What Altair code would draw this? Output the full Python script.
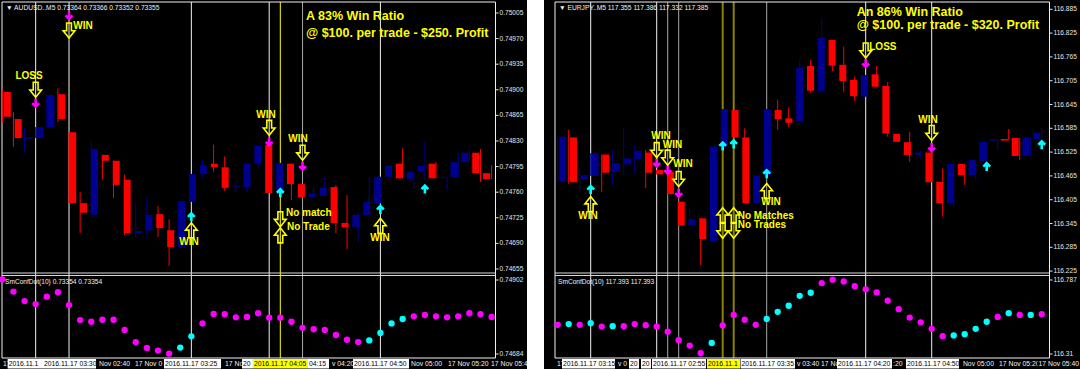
import altair as alt
import pandas as pd

# ---------------- LEFT chart : AUDUSD..M5 ----------------
L_open  = [0.74897, 0.74860, 0.74833, 0.74834, 0.74849, 0.74894, 0.74842, 0.74745, 0.74729, 0.74811,
           0.74803, 0.74777, 0.74704, 0.74708, 0.74730, 0.74708, 0.74685, 0.74747, 0.74785, 0.74799,
           0.74794, 0.74767, 0.74767, 0.74799, 0.74825, 0.74763, 0.74799, 0.74771, 0.74753, 0.74755,
           0.74767, 0.74718, 0.74712, 0.74729, 0.74745, 0.74781, 0.74799, 0.74778, 0.74789, 0.74799,
           0.74780, 0.74781, 0.74801, 0.74814, 0.74786]
L_high  = [0.74900, 0.74870, 0.74848, 0.74849, 0.74893, 0.74902, 0.74842, 0.74760, 0.74829, 0.74811,
           0.74803, 0.74784, 0.74745, 0.74753, 0.74741, 0.74723, 0.74748, 0.74785, 0.74804, 0.74825,
           0.74809, 0.74775, 0.74799, 0.74825, 0.74825, 0.74800, 0.74799, 0.74771, 0.74767, 0.74781,
           0.74770, 0.74756, 0.74732, 0.74781, 0.74781, 0.74796, 0.74820, 0.74788, 0.74829, 0.74801,
           0.74781, 0.74814, 0.74820, 0.74819, 0.74797]
L_low   = [0.74855, 0.74822, 0.74814, 0.74834, 0.74849, 0.74856, 0.74745, 0.74704, 0.74729, 0.74777,
           0.74752, 0.74701, 0.74699, 0.74699, 0.74699, 0.74659, 0.74684, 0.74747, 0.74779, 0.74788,
           0.74762, 0.74759, 0.74760, 0.74793, 0.74759, 0.74763, 0.74749, 0.74753, 0.74753, 0.74755,
           0.74704, 0.74682, 0.74691, 0.74729, 0.74745, 0.74781, 0.74779, 0.74766, 0.74777, 0.74779,
           0.74762, 0.74781, 0.74801, 0.74774, 0.74778]
L_close = [0.74863, 0.74834, 0.74835, 0.74849, 0.74893, 0.74860, 0.74745, 0.74732, 0.74819, 0.74803,
           0.74770, 0.74704, 0.74707, 0.74729, 0.74711, 0.74685, 0.74748, 0.74785, 0.74797, 0.74794,
           0.74766, 0.74768, 0.74799, 0.74823, 0.74759, 0.74800, 0.74771, 0.74753, 0.74758, 0.74766,
           0.74718, 0.74712, 0.74729, 0.74747, 0.74781, 0.74796, 0.74779, 0.74788, 0.74796, 0.74779,
           0.74781, 0.74801, 0.74814, 0.74786, 0.74778]
L_dot = [0.74904, 0.74868, 0.74840, 0.74831, 0.74853, 0.74866, 0.74828, 0.74784, 0.74779, 0.74785,
         0.74785, 0.74755, 0.74719, 0.74702, 0.74694, 0.74685, 0.74703, 0.74736, 0.74774, 0.74802,
         0.74801, 0.74792, 0.74793, 0.74804, 0.74791, 0.74791, 0.74779, 0.74761, 0.74757, 0.74755,
         0.74740, 0.74726, 0.74719, 0.74724, 0.74746, 0.74774, 0.74787, 0.74795, 0.74799, 0.74795,
         0.74792, 0.74795, 0.74804, 0.74801, 0.74793]
L_dot_cyan = [16, 17, 33, 34, 35, 36]

L_vline_white = [3, 6, 17, 24, 34]
L_vline_gray = [27]
L_vline_gold = [25]

L_label_text = ["LOSS", "WIN", "WIN", "WIN", "WIN", "WIN"]
L_label_x = [2.40, 7.26, 16.79, 23.71, 26.59, 33.97]
L_label_y = [0.74919, 0.74987, 0.74692, 0.74866, 0.74833, 0.74697]
L_note_text = ["No match", "No Trade"]
L_note_x = [25.51, 25.60]
L_note_y = [0.74732, 0.74712]
L_hdown_x = [3, 6, 24, 25, 27]
L_hdown_y = [0.74900, 0.74981, 0.74848, 0.74723, 0.74814]
L_hup_x = [17, 25, 34]
L_hup_y = [0.74708, 0.74701, 0.74714]
L_sdown_x = [3, 6, 24, 27]
L_sdown_y = [0.74882, 0.75002, 0.74829, 0.74796]
L_sup_x = [17, 25, 34, 38]
L_sup_y = [0.74726, 0.74759, 0.74736, 0.74764]
L_head = ["A 83% Win Ratio", "@ $100. per trade - $250. Profit"]
L_head_x = 27.31
L_head_y = [0.75001, 0.74978]
L_price_ticks = [0.75005, 0.74970, 0.74935, 0.74900, 0.74865, 0.74830, 0.74795, 0.74760, 0.74725, 0.74690, 0.74655]
L_price_labels = ["%.5f" % v for v in L_price_ticks]
L_ind_ticks = [0.74902, 0.74684]
L_ind_labels = ["0.74902", "0.74684"]
L_title = "\u25bc AUDUSD..M5  0.73364 0.73366 0.73352 0.73355"
L_ind_title = "SmConfDot(10) 0.73354 0.73354"
L_time_text = ["17", "2016.11.1", "2016.11.17 03:30", "Nov 02:40", "17 Nov 0", "2016.11.17 03:25", "17 No", "20",
               "2016.11.17 04:05", "04:15", "v 04:20", "2016.11.17 04:50", "Nov 05:00", "17 Nov 05:20", "17 Nov 05:40"]
L_time_start = [-0.03, 0.48, 3.66, 8.61, 11.84, 14.54, 19.94, 21.56, 22.54, 27.49, 29.56, 31.54, 36.66, 39.99, 43.86]
L_time_end = [0.48, 3.66, 8.43, 11.6, 14.5, 19.67, 21.5, 22.54, 27.49, 29.38, 31.5, 36.57, 39.9, 43.8, 47.0]
L_time_box = ["none", "white", "white", "none", "none", "white", "none", "white",
              "yellow", "white", "none", "white", "none", "none", "none"]

# ---------------- RIGHT chart : EURJPY..M5 ----------------
R_open  = [116.450, 116.562, 116.457, 116.465, 116.519, 116.475, 116.494, 116.508, 116.524, 116.480,
           116.476, 116.400, 116.341, 116.358, 116.301, 116.539, 116.631, 116.562, 116.396, 116.467,
           116.631, 116.610, 116.603, 116.742, 116.679, 116.808, 116.745, 116.707, 116.665, 116.721,
           116.692, 116.571, 116.550, 116.518, 116.524, 116.450, 116.396, 116.495, 116.467, 116.503,
           116.554, 116.558, 116.561, 116.516, 116.558]
R_high  = [116.564, 116.581, 116.486, 116.522, 116.519, 116.530, 116.587, 116.540, 116.530, 116.480,
           116.476, 116.400, 116.383, 116.358, 116.539, 116.633, 116.631, 116.585, 116.466, 116.633,
           116.656, 116.638, 116.757, 116.757, 116.864, 116.808, 116.791, 116.715, 116.719, 116.742,
           116.702, 116.571, 116.576, 116.528, 116.524, 116.484, 116.501, 116.495, 116.505, 116.551,
           116.558, 116.583, 116.561, 116.562, 116.585]
R_low   = [116.450, 116.445, 116.425, 116.465, 116.425, 116.442, 116.469, 116.472, 116.434, 116.469,
           116.419, 116.340, 116.341, 116.240, 116.296, 116.539, 116.562, 116.396, 116.396, 116.467,
           116.581, 116.588, 116.599, 116.675, 116.674, 116.729, 116.677, 116.654, 116.665, 116.690,
           116.564, 116.551, 116.501, 116.513, 116.449, 116.362, 116.386, 116.442, 116.453, 116.503,
           116.530, 116.554, 116.505, 116.516, 116.558]
R_close = [116.564, 116.449, 116.467, 116.522, 116.473, 116.497, 116.509, 116.528, 116.473, 116.469,
           116.419, 116.340, 116.356, 116.306, 116.539, 116.633, 116.562, 116.396, 116.466, 116.633,
           116.608, 116.599, 116.738, 116.680, 116.813, 116.743, 116.704, 116.666, 116.719, 116.690,
           116.572, 116.551, 116.518, 116.524, 116.449, 116.396, 116.495, 116.467, 116.505, 116.551,
           116.558, 116.554, 116.515, 116.562, 116.574]
R_dot = [116.498, 116.503, 116.498, 116.509, 116.487, 116.489, 116.489, 116.503, 116.496, 116.487,
         116.454, 116.399, 116.364, 116.315, 116.381, 116.494, 116.562, 116.531, 116.498, 116.536,
         116.582, 116.621, 116.685, 116.705, 116.767, 116.789, 116.778, 116.747, 116.727, 116.707,
         116.654, 116.599, 116.545, 116.514, 116.472, 116.425, 116.430, 116.438, 116.472, 116.518,
         116.549, 116.573, 116.562, 116.562, 116.567]
R_dot_cyan = [1, 3, 5, 14, 19, 20, 21, 22, 23, 36, 37, 38, 39, 41, 43]

R_vline_white = [3, 9, 28, 34]
R_vline_gray = [10, 11, 19]
R_vline_gold = [15, 16]

R_label_text = ["WIN", "WIN", "WIN", "WIN", "WIN", "LOSS", "WIN"]
R_label_x = [2.75, 9.39, 10.44, 11.39, 19.39, 29.56, 33.66]
R_label_y = [116.364, 116.566, 116.543, 116.494, 116.399, 116.791, 116.606]
R_note_text = ["No Matches", "No Trades"]
R_note_x = [16.36, 16.36]
R_note_y = [116.364, 116.341]
R_hdown_x = [9, 10, 11, 15, 16, 28, 34]
R_hdown_y = [116.530, 116.511, 116.457, 116.327, 116.327, 116.781, 116.573]
R_hup_x = [3, 15, 16, 19]
R_hup_y = [116.394, 116.366, 116.366, 116.427]
R_sdown_x = [9, 10, 11, 28, 34]
R_sdown_y = [116.498, 116.480, 116.422, 116.749, 116.537]
R_sup_x = [3, 15, 16, 19, 39, 44]
R_sup_y = [116.430, 116.540, 116.545, 116.470, 116.488, 116.543]
R_head = ["An 86% Win Ratio", "@ $100. per trade - $320. Profit"]
R_head_x = 27.18
R_head_y = [116.877, 116.845]
R_price_ticks = [116.885, 116.825, 116.765, 116.705, 116.645, 116.585, 116.525, 116.465, 116.405, 116.345, 116.285, 116.225]
R_price_labels = ["%.3f" % v for v in R_price_ticks]
R_ind_ticks = [116.787, 116.31]
R_ind_labels = ["116.787", "116.31"]
R_title = "\u25bc EURJPY..M5  117.355 117.386 117.332 117.385"
R_ind_title = "SmConfDot(10) 117.393 117.393"
R_time_text = ["17", "2016.11.17 03:15", "v 0", "20", "20", "2016.11.17 02:55", "2016.11.1", "2016.11.17 03:35",
               "v 03:40", "17 No", "2016.11.17 04:20", ":20", "2016.11.17 04:50", "Nov 05:00", "17 Nov 05:20", "17 Nov 05:40"]
R_time_start = [-0.15, 0.39, 5.39, 6.48, 7.57, 8.57, 13.57, 16.62, 21.66, 23.85, 25.39, 30.39, 31.66, 36.75, 40.03, 43.62]
R_time_end = [0.39, 5.21, 6.4, 7.39, 8.48, 13.48, 16.57, 21.57, 23.6, 25.3, 30.39, 31.5, 36.48, 39.9, 43.6, 47.4]
R_time_box = ["none", "white", "none", "white", "white", "white", "yellow", "white",
              "none", "none", "white", "none", "white", "none", "none", "none"]

# ---------------- styling / layout ----------------
FONT = "Liberation Sans"
YELLOW = "#ffff00"
AX = "#e6e6e6"
DOWN_SMALL = "M0,-1 L0,0.85 M-0.8,0.05 L0,0.85 L0.8,0.05"
UP_SMALL = "M0,1 L0,-0.85 M-0.8,-0.05 L0,-0.85 L0.8,-0.05"
HOLLOW_DOWN = "M-0.32,-1 L0.32,-1 L0.32,0.02 L0.78,0.02 L0,1 L-0.78,0.02 L-0.32,0.02 Z"
HOLLOW_UP = "M-0.32,1 L0.32,1 L0.32,-0.02 L0.78,-0.02 L0,-1 L-0.78,-0.02 L-0.32,-0.02 Z"
BOX_FILL = {"white": "#ffffff", "yellow": "#ffff00", "none": "#000000"}

ONE = alt.Data(values=[{"k": 0}])


def build_panel(P):
    xs = alt.Scale(domain=[0, 44], range=P["xr"])
    ym = alt.Scale(domain=P["ydom"], range=P["yr"])
    yi = alt.Scale(domain=P["idom"], range=P["ir"])
    fx0, fx1 = P["frame_x"]
    L = []

    # vertical signal lines (behind the candles)
    for idxs, col, w in [(P["vw"], "#f0f0f0", 1), (P["vg"], "#a8a8a8", 1), (P["vy"], P["gold"], P["gold_w"])]:
        d = pd.DataFrame({"idx": idxs})
        L.append(alt.Chart(d).mark_rule(color=col, strokeWidth=w).encode(
            x=alt.X("idx:Q", scale=xs, axis=None), y=alt.value(2), y2=alt.value(358)))

    # frame
    L.append(alt.Chart(ONE).mark_rect(fillOpacity=0, stroke="#f0f0f0", strokeWidth=1).encode(
        x=alt.value(fx0), x2=alt.value(fx1), y=alt.value(2), y2=alt.value(358)))
    for yy in (273, 275.5):
        L.append(alt.Chart(ONE).mark_rule(color="#d8d8d8", strokeWidth=1).encode(
            x=alt.value(fx0), x2=alt.value(fx1), y=alt.value(yy)))

    # candles
    cd = pd.DataFrame({"idx": range(len(P["o"])), "open": P["o"], "high": P["h"],
                       "low": P["l"], "close": P["c"]})
    cd["dir"] = ["up" if c >= o else "down" for o, c in zip(P["o"], P["c"])]
    cscale = alt.Scale(domain=["up", "down"], range=["#000090", "#ff0000"])
    L.append(alt.Chart(cd).mark_rule(strokeWidth=1).encode(
        x=alt.X("idx:Q", scale=xs, axis=None),
        y=alt.Y("low:Q", scale=ym, axis=None), y2="high:Q",
        color=alt.Color("dir:N", scale=cscale, legend=None)))
    L.append(alt.Chart(cd).mark_bar(size=7).encode(
        x=alt.X("idx:Q", scale=xs, axis=None),
        y=alt.Y("open:Q", scale=ym, axis=None), y2="close:Q",
        color=alt.Color("dir:N", scale=cscale, legend=None)))

    # indicator dots
    dd = pd.DataFrame({"idx": range(len(P["dot"])), "dot": P["dot"]})
    dd["trend"] = ["up" if i in P["cyan"] else "down" for i in range(len(P["dot"]))]
    L.append(alt.Chart(dd).mark_circle(size=40, opacity=1).encode(
        x=alt.X("idx:Q", scale=xs, axis=None),
        y=alt.Y("dot:Q", scale=yi, axis=None),
        color=alt.Color("trend:N", scale=alt.Scale(domain=["up", "down"], range=["#00ffff", "#ff00ff"]), legend=None)))

    # signal arrows
    for xsrc, ysrc, shape, col, size, sw in [
        (P["sdx"], P["sdy"], DOWN_SMALL, "#ff00ff", 72, 2.6),
        (P["sux"], P["suy"], UP_SMALL, "#00ffff", 72, 2.6),
        (P["hdx"], P["hdy"], HOLLOW_DOWN, YELLOW, 225, 1.6),
        (P["hux"], P["huy"], HOLLOW_UP, YELLOW, 225, 1.6)]:
        d = pd.DataFrame({"idx": xsrc, "y": ysrc})
        L.append(alt.Chart(d).mark_point(shape=shape, filled=False, color=col, strokeWidth=sw,
                                         size=size, opacity=1).encode(
            x=alt.X("idx:Q", scale=xs, axis=None), y=alt.Y("y:Q", scale=ym, axis=None)))

    # WIN / LOSS labels
    d = pd.DataFrame({"x": P["lx"], "y": P["ly"], "t": P["lt"]})
    L.append(alt.Chart(d).mark_text(font=FONT, fontWeight="bold", fontSize=10, color=YELLOW,
                                    align="center", baseline="middle").encode(
        x=alt.X("x:Q", scale=xs, axis=None), y=alt.Y("y:Q", scale=ym, axis=None), text="t:N"))
    d = pd.DataFrame({"x": P["nx"], "y": P["ny"], "t": P["nt"]})
    L.append(alt.Chart(d).mark_text(font=FONT, fontWeight="bold", fontSize=10, color=YELLOW,
                                    align="left", baseline="middle").encode(
        x=alt.X("x:Q", scale=xs, axis=None), y=alt.Y("y:Q", scale=ym, axis=None), text="t:N"))
    # headline
    d = pd.DataFrame({"x": [P["hx"]] * 2, "y": P["hy"], "t": P["ht"]})
    L.append(alt.Chart(d).mark_text(font=FONT, fontWeight="bold", fontSize=12.5, color=YELLOW,
                                    align="left", baseline="middle").encode(
        x=alt.X("x:Q", scale=xs, axis=None), y=alt.Y("y:Q", scale=ym, axis=None), text="t:N"))

    # price axis (main + indicator)
    for vals, labs, sc in [(P["pt"], P["pl"], ym), (P["it"], P["il"], yi)]:
        d = pd.DataFrame({"v": vals, "t": labs})
        L.append(alt.Chart(d).mark_rule(color=AX, strokeWidth=1).encode(
            x=alt.value(fx1), x2=alt.value(fx1 + 3), y=alt.Y("v:Q", scale=sc, axis=None)))
        L.append(alt.Chart(d).mark_text(font=FONT, fontSize=6.6, color=AX, align="left", baseline="middle").encode(
            x=alt.value(fx1 + 4), y=alt.Y("v:Q", scale=sc, axis=None), text="t:N"))

    # titles
    L.append(alt.Chart(ONE).mark_text(font=FONT, fontSize=6.7, color="#f0f0f0", align="left", baseline="middle").encode(
        x=alt.value(fx0 + 4), y=alt.value(7.5), text=alt.value(P["title"])))
    L.append(alt.Chart(ONE).mark_text(font=FONT, fontSize=6.6, color="#f0f0f0", align="left", baseline="middle").encode(
        x=alt.value(fx0 + 3), y=alt.value(281.5), text=alt.value(P["ititle"])))

    # time axis: each label drawn in order so later ones cover earlier ones (as MT4 does)
    for s, e, t, b in zip(P["ts"], P["te"], P["tt"], P["tb"]):
        d = pd.DataFrame({"s": [s], "e": [e], "t": [t]})
        L.append(alt.Chart(d).mark_rect(color=BOX_FILL[b]).encode(
            x=alt.X("s:Q", scale=xs, axis=None), x2="e:Q", y=alt.value(359), y2=alt.value(368.5)))
        L.append(alt.Chart(d).mark_text(font=FONT, fontSize=6.8, color="#000000" if b != "none" else "#f0f0f0",
                                        align="left", baseline="middle", dx=1).encode(
            x=alt.X("s:Q", scale=xs, axis=None), y=alt.value(364), text="t:N"))
    return L


LEFT = dict(xr=[2.3, 491.6], ydom=[0.74655, 0.75005], yr=[269, 13], idom=[0.74684, 0.74902], ir=[354, 280],
            frame_x=(2, 495.5), o=L_open, h=L_high, l=L_low, c=L_close, dot=L_dot, cyan=L_dot_cyan,
            vw=L_vline_white, vg=L_vline_gray, vy=L_vline_gold, gold="#ffff00", gold_w=1,
            sdx=L_sdown_x, sdy=L_sdown_y, sux=L_sup_x, suy=L_sup_y, hdx=L_hdown_x, hdy=L_hdown_y,
            hux=L_hup_x, huy=L_hup_y, lx=L_label_x, ly=L_label_y, lt=L_label_text,
            nx=L_note_x, ny=L_note_y, nt=L_note_text, hx=L_head_x, hy=L_head_y, ht=L_head,
            pt=L_price_ticks, pl=L_price_labels, it=L_ind_ticks, il=L_ind_labels,
            title=L_title, ititle=L_ind_title, ts=L_time_start, te=L_time_end, tt=L_time_text, tb=L_time_box)
RIGHT = dict(xr=[557.7, 1041.7], ydom=[116.285, 116.885], yr=[247.3, 9.3], idom=[116.31, 116.787], ir=[354, 280],
             frame_x=(555, 1049.5), o=R_open, h=R_high, l=R_low, c=R_close, dot=R_dot, cyan=R_dot_cyan,
             vw=R_vline_white, vg=R_vline_gray, vy=R_vline_gold, gold="#8a8200", gold_w=2,
             sdx=R_sdown_x, sdy=R_sdown_y, sux=R_sup_x, suy=R_sup_y, hdx=R_hdown_x, hdy=R_hdown_y,
             hux=R_hup_x, huy=R_hup_y, lx=R_label_x, ly=R_label_y, lt=R_label_text,
             nx=R_note_x, ny=R_note_y, nt=R_note_text, hx=R_head_x, hy=R_head_y, ht=R_head,
             pt=R_price_ticks, pl=R_price_labels, it=R_ind_ticks, il=R_ind_labels,
             title=R_title, ititle=R_ind_title, ts=R_time_start, te=R_time_end, tt=R_time_text, tb=R_time_box)

layers = build_panel(LEFT) + build_panel(RIGHT)
# white gap between the two screenshots
layers.append(alt.Chart(ONE).mark_rect(color="#ffffff").encode(
    x=alt.value(527), x2=alt.value(544), y=alt.value(0), y2=alt.value(369)))

chart = alt.layer(*layers).resolve_scale(x="independent", y="independent", color="independent").properties(
    width=1080, height=369, padding=0, background="#000000",
    autosize=alt.AutoSizeParams(type="none")
).configure_view(stroke=None)

chart.save("out.html", embed_options={"renderer": "svg", "actions": False})
